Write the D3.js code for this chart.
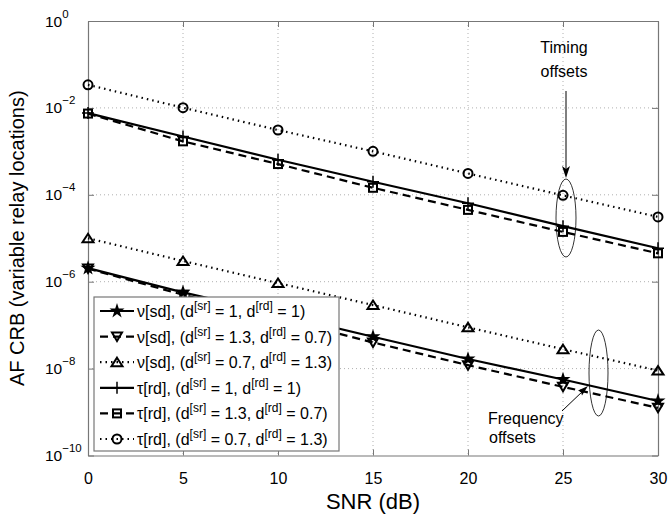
<!DOCTYPE html>
<html><head><meta charset="utf-8">
<script src="https://cdn.jsdelivr.net/npm/d3@7"></script>
<style>
body{margin:0;background:#fff;}
svg text{font-family:"Liberation Sans",Arial,Helvetica,sans-serif;fill:#000;}
</style></head>
<body><svg id="c" width="670" height="515"></svg>
<script>
// ---- data ----
const snr = [0, 5, 10, 15, 20, 25, 30];
const xTicks = [0, 5, 10, 15, 20, 25, 30];
const yTickExps = [0, -2, -4, -6, -8, -10];
const nuSd_1_1   = [2.05e-6, 5.7e-7, 1.8e-7, 5.4e-8, 1.66e-8, 5.6e-9, 1.8e-9];
const nuSd_13_07 = [2.0e-6, 5.0e-7, 1.45e-7, 4.0e-8, 1.2e-8, 3.8e-9, 1.25e-9];
const nuSd_07_13 = [1.0e-5, 3.0e-6, 9.3e-7, 2.9e-7, 8.9e-8, 2.8e-8, 9.0e-9];
const tauRd_1_1   = [7.6e-3, 2.2e-3, 6.4e-4, 2.0e-4, 6.4e-5, 1.9e-5, 5.9e-6];
const tauRd_13_07 = [7.4e-3, 1.7e-3, 5.1e-4, 1.45e-4, 4.5e-5, 1.4e-5, 4.5e-6];
const tauRd_07_13 = [3.4e-2, 1.01e-2, 3.1e-3, 1.0e-3, 3.1e-4, 9.7e-5, 3.1e-5];
const seriesNames = [
  ["ν[sd], (d", "[sr]", " = 1, d", "[rd]", " = 1)"],
  ["ν[sd], (d", "[sr]", " = 1.3, d", "[rd]", " = 0.7)"],
  ["ν[sd], (d", "[sr]", " = 0.7, d", "[rd]", " = 1.3)"],
  ["τ[rd], (d", "[sr]", " = 1, d", "[rd]", " = 1)"],
  ["τ[rd], (d", "[sr]", " = 1.3, d", "[rd]", " = 0.7)"],
  ["τ[rd], (d", "[sr]", " = 0.7, d", "[rd]", " = 1.3)"]
];
const seriesValues = [nuSd_1_1, nuSd_13_07, nuSd_07_13, tauRd_1_1, tauRd_13_07, tauRd_07_13];
const seriesDash = ["", "8,5", "1.5,4", "", "8,5", "1.5,4"];
const seriesMarker = ["star", "tridown", "triup", "plus", "square", "circle"];

// ---- layout ----
const L = 88, R = 658, T = 21, B = 455.5;
const svg = d3.select("#c");
const x = d3.scaleLinear().domain([0, 30]).range([L, R]);
const y = d3.scaleLog().domain([1e-10, 1]).range([B, T]);

// grid
const grid = svg.append("g").attr("stroke", "#b0b0b0").attr("stroke-width", 1).attr("stroke-dasharray", "1,3");
xTicks.slice(1, -1).forEach(t => grid.append("line").attr("x1", x(t)).attr("x2", x(t)).attr("y1", T).attr("y2", B));
yTickExps.slice(1, -1).forEach(e => grid.append("line").attr("x1", L).attr("x2", R).attr("y1", y(Math.pow(10, e))).attr("y2", y(Math.pow(10, e))));

// axes (ticks inward on all sides)
const axColor = "#777";
const xb = svg.append("g").attr("transform", `translate(0,${B})`)
  .call(d3.axisBottom(x).tickValues(xTicks).tickSizeInner(-6).tickSizeOuter(0).tickPadding(17));
const xt = svg.append("g").attr("transform", `translate(0,${T})`)
  .call(d3.axisTop(x).tickValues(xTicks).tickSizeInner(-6).tickSizeOuter(0).tickFormat(""));
const yl = svg.append("g").attr("transform", `translate(${L},0)`)
  .call(d3.axisLeft(y).tickValues(yTickExps.map(e => Math.pow(10, e))).tickSizeInner(-6).tickSizeOuter(0).tickFormat(""));
const yr = svg.append("g").attr("transform", `translate(${R},0)`)
  .call(d3.axisRight(y).tickValues(yTickExps.map(e => Math.pow(10, e))).tickSizeInner(-6).tickSizeOuter(0).tickFormat(""));
[xb, xt, yl, yr].forEach(g => {
  g.select(".domain").attr("stroke", axColor).attr("stroke-width", 1.2);
  g.selectAll(".tick line").attr("stroke", axColor);
});
xb.selectAll(".tick text").attr("font-size", 16).attr("font-family", "Liberation Sans, Arial, sans-serif").attr("fill", "#000");

// y tick labels with superscript exponent
yTickExps.forEach(e => {
  const t = svg.append("text").attr("x", 45).attr("y", y(Math.pow(10, e)) + 5.5).attr("font-size", 15.5);
  t.append("tspan").text("10");
  t.append("tspan").attr("dy", -9).attr("font-size", 11.5).text(e === 0 ? "0" : "\u2212" + Math.abs(e));
});

// axis titles
svg.append("text").attr("x", (L + R) / 2).attr("y", 509).attr("text-anchor", "middle").attr("font-size", 22).text("SNR (dB)");
svg.append("text").attr("transform", `translate(24,${(T + B) / 2}) rotate(-90)`).attr("text-anchor", "middle")
  .attr("font-size", 20).text("AF CRB (variable relay locations)");

// markers
function drawMarker(g, type, cx, cy) {
  const sw = 2;
  if (type === "star") {
    g.append("path").attr("d", d3.symbol().type(d3.symbolStar).size(70)()).attr("transform", `translate(${cx},${cy})`).attr("fill", "#000");
  } else if (type === "tridown") {
    g.append("path").attr("d", "M-5,-4L5,-4L0,4.5Z").attr("transform", `translate(${cx},${cy})`).attr("fill", "none").attr("stroke", "#000").attr("stroke-width", sw);
  } else if (type === "triup") {
    g.append("path").attr("d", "M0,-4.5L5.5,4L-5.5,4Z").attr("transform", `translate(${cx},${cy})`).attr("fill", "none").attr("stroke", "#000").attr("stroke-width", sw);
  } else if (type === "plus") {
    g.append("path").attr("d", "M-6,0H6M0,-6V6").attr("transform", `translate(${cx},${cy})`).attr("fill", "none").attr("stroke", "#000").attr("stroke-width", 1.5);
  } else if (type === "square") {
    g.append("rect").attr("x", cx - 4).attr("y", cy - 4).attr("width", 8).attr("height", 8).attr("fill", "none").attr("stroke", "#000").attr("stroke-width", sw);
  } else if (type === "circle") {
    g.append("circle").attr("cx", cx).attr("cy", cy).attr("r", 4.5).attr("fill", "none").attr("stroke", "#000").attr("stroke-width", sw);
  }
}

// series
const line = d3.line().x((d, i) => x(snr[i])).y(d => y(d));
const plot = svg.append("g");
seriesValues.forEach((vals, k) => {
  plot.append("path").attr("d", line(vals)).attr("fill", "none").attr("stroke", "#000")
    .attr("stroke-width", 2.2).attr("stroke-dasharray", seriesDash[k] || null);
  vals.forEach((v, i) => drawMarker(plot, seriesMarker[k], x(snr[i]), y(v)));
});

// legend
const lg = svg.append("g");
const lgX = 94, lgY = 297, lgW = 245, lgH = 154, rowH = 25.6, row0 = 311;
lg.append("rect").attr("x", lgX).attr("y", lgY).attr("width", lgW).attr("height", lgH).attr("fill", "#fff").attr("stroke", axColor).attr("stroke-width", 1.2);
seriesNames.forEach((parts, k) => {
  const cy = row0 + k * rowH;
  lg.append("line").attr("x1", 100).attr("x2", 134).attr("y1", cy).attr("y2", cy).attr("stroke", "#000").attr("stroke-width", 2.2)
    .attr("stroke-dasharray", seriesDash[k] || null);
  drawMarker(lg, seriesMarker[k], 117, cy);
  const t = lg.append("text").attr("x", 137).attr("y", cy + 6).attr("font-size", 16);
  t.append("tspan").text(parts[0]);
  t.append("tspan").attr("dy", -7).attr("font-size", 12).text(parts[1]);
  t.append("tspan").attr("dy", 7).text(parts[2]);
  t.append("tspan").attr("dy", -7).attr("font-size", 12).text(parts[3]);
  t.append("tspan").attr("dy", 7).text(parts[4]);
});

// annotations
const ann = svg.append("g");
ann.append("text").attr("x", 564).attr("y", 53).attr("text-anchor", "middle").attr("font-size", 16).text("Timing");
ann.append("text").attr("x", 564).attr("y", 77).attr("text-anchor", "middle").attr("font-size", 16).text("offsets");
ann.append("line").attr("x1", 566).attr("x2", 566).attr("y1", 91).attr("y2", 170).attr("stroke", "#000").attr("stroke-width", 1);
ann.append("path").attr("d", "M562,166L566,178L570,166L566,169Z").attr("fill", "#000");
ann.append("ellipse").attr("cx", 566).attr("cy", 218).attr("rx", 10).attr("ry", 39).attr("fill", "none").attr("stroke", "#000").attr("stroke-width", 0.8);
ann.append("ellipse").attr("cx", 598.5).attr("cy", 373).attr("rx", 9.5).attr("ry", 43).attr("fill", "none").attr("stroke", "#000").attr("stroke-width", 0.8);
ann.append("line").attr("x1", 562).attr("y1", 411).attr("x2", 584).attr("y2", 390).attr("stroke", "#000").attr("stroke-width", 1);
ann.append("path").attr("d", "M588,386L578,390.5L581,392L582,395.5Z").attr("fill", "#000");
ann.append("text").attr("x", 488).attr("y", 424).attr("font-size", 16).text("Frequency");
ann.append("text").attr("x", 489).attr("y", 443).attr("font-size", 16).text("offsets");
</script></body></html>
